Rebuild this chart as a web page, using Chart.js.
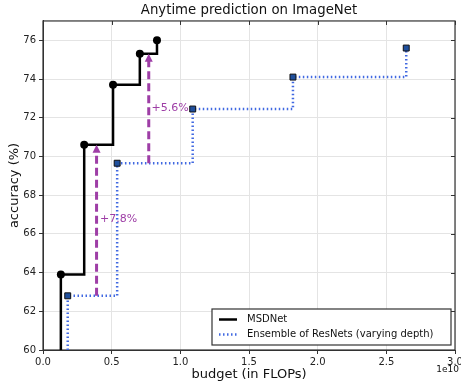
<!DOCTYPE html>
<html>
<head>
<meta charset="utf-8">
<script src="https://cdn.jsdelivr.net/npm/chart.js@4.4.0/dist/chart.umd.min.js"></script>
<style>
body{margin:0;background:#fff;}
</style>
</head>
<body>
<canvas id="myChart" width="461" height="390"></canvas>
<script>
// budget in units of 1e10 FLOPs, accuracy in %
const msdFlops = [0.13, 0.30, 0.51, 0.705, 0.83];
const msdAcc = [63.9, 70.6, 73.7, 75.3, 76.0];
const resFlops = [0.18, 0.54, 1.09, 1.82, 2.645];
const resAcc = [62.8, 69.65, 72.45, 74.1, 75.6];

const xTicks = [0, 0.5, 1.0, 1.5, 2.0, 2.5, 3.0];
const yTicks = [60, 62, 64, 66, 68, 70, 72, 74, 76];
const yMin = 60, yMax = 77;

// the purple "gain" arrows
const gainX = [0.39, 0.77];
const gainFrom = [62.8, 69.65];
const gainTo = [70.6, 75.3];
const gainLabels = ['+7.8%', '+5.6%'];
const gainLabelX = [0.415, 0.79];
const gainLabelY = [66.75, 72.5];

const purple = '#9e3ea6';
const blue = '#4169e1';

Chart.defaults.font.family = 'DejaVu Sans';
Chart.defaults.color = '#222';

// a step line starts from the bottom of the axis
function stepData(xs, ys) {
    const pts = [{x: xs[0], y: yMin}];
    for (let i = 0; i < xs.length; i++) {
        pts.push({x: xs[i], y: ys[i]});
    }
    return pts;
}

const extras = {
    id: 'extras',
    beforeDatasetsDraw(chart) {
        const {ctx, chartArea: a, scales: {x, y}} = chart;
        ctx.save();
        ctx.strokeStyle = '#333';
        ctx.lineWidth = 1;
        ctx.beginPath();
        xTicks.forEach(v => {
            const px = Math.round(x.getPixelForValue(v)) + 0.5;
            ctx.moveTo(px, a.top);
            ctx.lineTo(px, a.top + 4);
        });
        yTicks.forEach(v => {
            const py = Math.round(y.getPixelForValue(v)) + 0.5;
            ctx.moveTo(a.right, py);
            ctx.lineTo(a.right - 4, py);
        });
        ctx.stroke();
        ctx.lineWidth = 1.2;
        ctx.strokeRect(a.left, a.top, a.right - a.left, a.bottom - a.top);
        ctx.restore();
    },
    afterDatasetsDraw(chart) {
        const {ctx, scales: {x, y}} = chart;
        ctx.save();
        for (let i = 0; i < gainX.length; i++) {
            const px = x.getPixelForValue(gainX[i]);
            const y0 = y.getPixelForValue(gainFrom[i]);
            const y1 = y.getPixelForValue(gainTo[i]);
            ctx.strokeStyle = purple;
            ctx.lineWidth = 3;
            ctx.setLineDash([8, 4]);
            ctx.beginPath();
            ctx.moveTo(px, y0);
            ctx.lineTo(px, y1 + 6);
            ctx.stroke();
            ctx.setLineDash([]);
            ctx.fillStyle = purple;
            ctx.beginPath();
            ctx.moveTo(px, y1);
            ctx.lineTo(px - 4, y1 + 8);
            ctx.lineTo(px + 4, y1 + 8);
            ctx.closePath();
            ctx.fill();
            ctx.font = '11px DejaVu Sans';
            ctx.textBaseline = 'middle';
            ctx.textAlign = 'left';
            ctx.fillText(gainLabels[i], x.getPixelForValue(gainLabelX[i]), y.getPixelForValue(gainLabelY[i]));
        }
        ctx.restore();
    },
    afterDraw(chart) {
        const {ctx, chartArea: a} = chart;
        ctx.save();
        // legend box
        const w = 239, h = 36;
        const lx = a.right - 4 - w, ly = a.bottom - 5 - h;
        ctx.fillStyle = '#fff';
        ctx.fillRect(lx, ly, w, h);
        ctx.strokeStyle = '#333';
        ctx.lineWidth = 1.2;
        ctx.strokeRect(lx, ly, w, h);
        ctx.lineWidth = 2.5;
        ctx.strokeStyle = '#000';
        ctx.beginPath();
        ctx.moveTo(lx + 7, ly + 10.5);
        ctx.lineTo(lx + 25, ly + 10.5);
        ctx.stroke();
        ctx.strokeStyle = blue;
        ctx.setLineDash([1.5, 2.5]);
        ctx.beginPath();
        ctx.moveTo(lx + 7, ly + 25.5);
        ctx.lineTo(lx + 25, ly + 25.5);
        ctx.stroke();
        ctx.setLineDash([]);
        ctx.fillStyle = '#111';
        ctx.font = '10px DejaVu Sans';
        ctx.textBaseline = 'middle';
        ctx.fillText('MSDNet', lx + 35, ly + 10.5);
        ctx.fillText('Ensemble of ResNets (varying depth)', lx + 35, ly + 25.5);
        // offset text of the x axis
        ctx.font = '9px DejaVu Sans';
        ctx.textAlign = 'right';
        ctx.fillText('1e10', 459, 370);
        ctx.restore();
    }
};

const myChart = document.getElementById('myChart').getContext('2d');

const AnytimeChart = new Chart(myChart, {
    type: 'line',
    data: {
        datasets: [{
            label: 'MSDNet',
            data: stepData(msdFlops, msdAcc),
            stepped: true,
            borderColor: '#000',
            borderWidth: 2.5,
            pointRadius: [0, 4, 4, 4, 4, 4],
            pointBackgroundColor: '#000',
            pointBorderColor: '#000',
            pointBorderWidth: 0
        }, {
            label: 'Ensemble of ResNets (varying depth)',
            data: stepData(resFlops, resAcc),
            stepped: true,
            borderColor: blue,
            borderWidth: 2.5,
            borderDash: [1.5, 2.5],
            pointStyle: 'rect',
            pointRadius: [0, 4.2, 4.2, 4.2, 4.2, 4.2],
            pointBackgroundColor: '#1f4f9c',
            pointBorderColor: '#111',
            pointBorderWidth: 1
        }]
    },
    options: {
        responsive: false,
        animation: false,
        layout: {padding: {left: 0, right: 6, top: 0, bottom: 0}},
        scales: {
            x: {
                type: 'linear',
                min: 0,
                max: 3,
                afterBuildTicks: s => { s.ticks = xTicks.map(v => ({value: v})); },
                afterFit: s => { s.height = 40; s.paddingLeft = 0; s.paddingRight = 0; },
                ticks: {
                    callback: v => v.toFixed(1),
                    font: {size: 10},
                    padding: 2,
                    maxRotation: 0
                },
                grid: {color: '#e4e4e4', tickLength: 4, tickColor: '#333'},
                border: {color: '#333'},
                title: {
                    display: true,
                    text: 'budget (in FLOPs)',
                    font: {size: 13},
                    color: '#111',
                    padding: {top: 0, bottom: 8}
                }
            },
            y: {
                min: yMin,
                max: yMax,
                afterBuildTicks: s => { s.ticks = yTicks.map(v => ({value: v})); },
                afterFit: s => { s.width = 43; },
                ticks: {
                    font: {size: 10},
                    padding: 3
                },
                grid: {color: '#e4e4e4', tickLength: 4, tickColor: '#333'},
                border: {color: '#333'},
                title: {
                    display: true,
                    text: 'accuracy (%)',
                    font: {size: 13},
                    color: '#111',
                    padding: {top: 7, bottom: 0}
                }
            }
        },
        plugins: {
            title: {
                display: true,
                fullSize: false,
                text: 'Anytime prediction on ImageNet',
                font: {size: 13.3, weight: 'normal'},
                color: '#111',
                padding: {top: 3, bottom: 2}
            },
            legend: {display: false},
            tooltip: {enabled: false}
        }
    },
    plugins: [extras]
});
</script>
</body>
</html>
